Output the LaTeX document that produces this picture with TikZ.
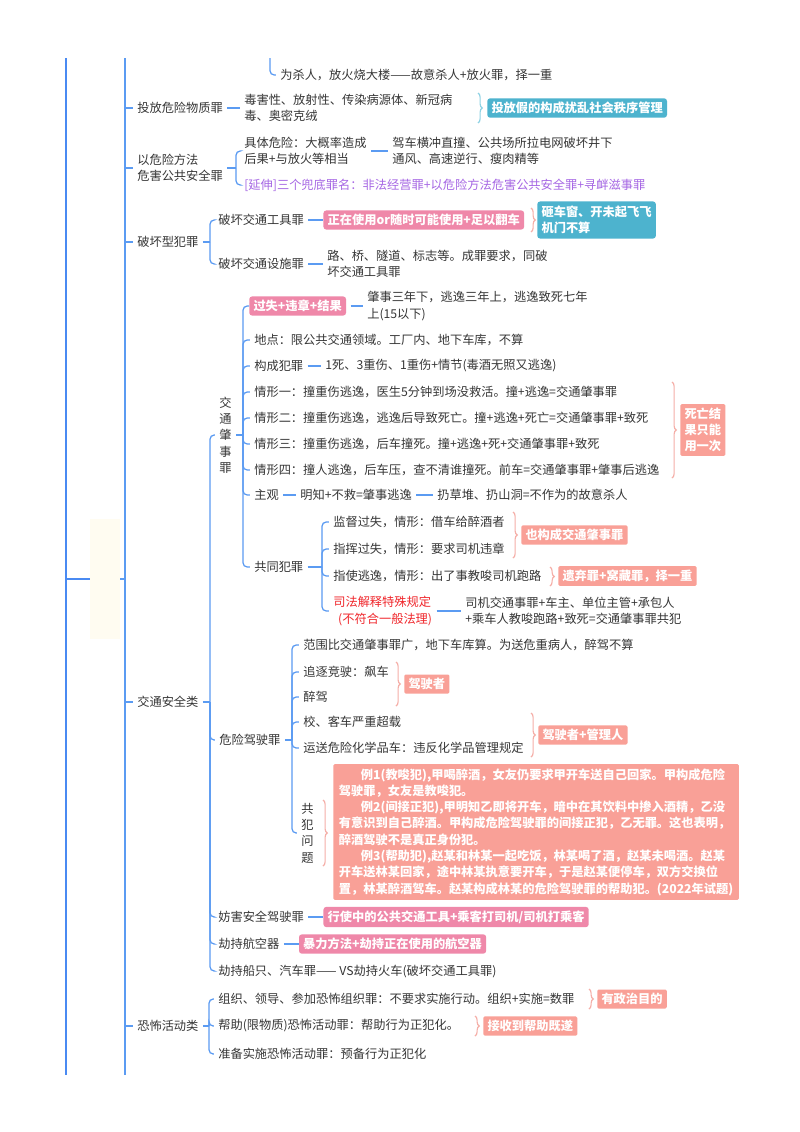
\documentclass[tikz,border=0pt]{standalone}
\usepackage{fontspec}
\setmainfont{Noto Sans CJK SC}
\usetikzlibrary{positioning, calc, decorations.pathreplacing}
\definecolor{linkblue}{HTML}{5B9BF2}
\definecolor{trunkblue}{HTML}{4A8AF2}
\definecolor{txtgray}{HTML}{363636}
\definecolor{pinkbox}{HTML}{EF88A9}
\definecolor{salmon}{HTML}{F9A097}
\definecolor{tealbox}{HTML}{4DB3CE}
\definecolor{bracepink}{HTML}{F5AFA8}
\definecolor{braceteal}{HTML}{8ED2E4}
\definecolor{extpurple}{HTML}{A667E4}
\definecolor{lawred}{HTML}{F0262B}
\definecolor{rootfill}{HTML}{FFFCF1}

\tikzset{
  every node/.style={font=\fontsize{8.7}{11.6}\selectfont, text=txtgray},
  item/.style={anchor=west, inner sep=0pt, align=left},
  vert/.style={anchor=west, inner sep=0pt, align=center},
  tag/.style={anchor=west, text=white, font=\fontsize{8.7}{11.6}\selectfont\bfseries,
    rounded corners=2pt, inner xsep=3pt, inner ysep=2.6pt, align=left},
  pinktag/.style={tag, fill=pinkbox},
  salmontag/.style={tag, fill=salmon, rounded corners=1pt},
  tealtag/.style={tag, fill=tealbox},
  rootbox/.style={fill=rootfill, minimum width=21pt, minimum height=86pt, inner sep=0pt},
  link/.style={draw=linkblue, line width=0.9pt, rounded corners=3pt},
  trunk/.style={link, draw=trunkblue, line width=1.4pt},
  stem/.style={link, shorten <=3pt},
  kid/.style={link, shorten >=3pt},
  tie/.style={link, shorten <=3pt, shorten >=3pt},
  tieb/.style={link, shorten <=3pt},
  brc/.style={draw=bracepink, line width=0.8pt, decorate, decoration={brace, amplitude=3pt}},
}

\begin{document}
\begin{tikzpicture}[x=0.025cm, y=-0.025cm, node distance=13.5pt]
  \useasboundingbox (0,0) rectangle (800,1132);
  \fill[white] (0,0) rectangle (800,1132);

  \node[item] (weisha) at (280,75) {为杀人，放火烧大楼——故意杀人+放火罪，择一重};
  \node[rootbox] (root) at (105,579) {};

  \node[item] (toufang) at (137,108) {投放危险物质罪};
  \node[item] (dusx) at (244,108) {毒害性、放射性、传染病源体、新冠病\\毒、奥密克绒};
  \node[tealtag] (tfj) at (487,108) {投放假的构成扰乱社会秩序管理};

  \node[item] (yiwei) at (137,168) {以危险方法\\危害公共安全罪};
  \node[item] (juti) at (244,151) {具体危险：大概率造成\\后果+与放火等相当};
  \node[item] (jiache) at (392,151) {驾车横冲直撞、公共场所拉电网破坏井下\\通风、高速逆行、瘦肉精等};
  \node[item, text=extpurple] (yanshen) at (244,185) {[延伸]三个兜底罪名：非法经营罪+以危险方法危害公共安全罪+寻衅滋事罪};

  \node[item] (pohuai) at (137,242) {破坏型犯罪};
  \node[item] (gjgj) at (218,220) {破坏交通工具罪};
  \node[pinktag, right=of gjgj] (zyyc) {正在使用or随时可能使用+足以翻车};
  \node[tealtag, right=9pt of zyyc, inner ysep=3.2pt] (zcc) {砸车窗、开未起飞飞\\机门不算};
  \node[item] (gjss) at (218,264) {破坏交通设施罪};
  \node[item] (lqsd) at (327,264) {路、桥、隧道、标志等。成罪要求，同破\\坏交通工具罪};

  \node[item] (jiaotong) at (137,702) {交通安全类};
  \node[vert] (zhaoshi) at (219,435) {交\\通\\肇\\事\\罪};
  \node[pinktag] (gsw) at (249,306) {过失+违章+结果};
  \node[item] (zs3) at (367,306) {肇事三年下，逃逸三年上，逃逸致死七年\\上(15以下)};
  \node[item] (didian) at (254,340) {地点：限公共交通领域。工厂内、地下车库，不算};
  \node[item] (goucheng) at (254,366) {构成犯罪};
  \node[item] (gcsi) at (325,366) {1死、3重伤、1重伤+情节(毒酒无照又逃逸)};
  \node[item] (qx1) at (254,392) {情形一：撞重伤逃逸，医生5分钟到场没救活。撞+逃逸=交通肇事罪};
  \node[item] (qx2) at (254,418) {情形二：撞重伤逃逸，逃逸后导致死亡。撞+逃逸+死亡=交通肇事罪+致死};
  \node[item] (qx3) at (254,444) {情形三：撞重伤逃逸，后车撞死。撞+逃逸+死+交通肇事罪+致死};
  \node[item] (qx4) at (254,470) {情形四：撞人逃逸，后车压，查不清谁撞死。前车=交通肇事罪+肇事后逃逸};
  \node[salmontag] (swjg) at (680,430) {死亡结\\果只能\\用一次};
  \node[item] (zhuguan) at (254,495) {主观};
  \node[item] (mingzhi) at (300,495) {明知+不救=肇事逃逸};
  \node[item] (rengcd) at (437,495) {扔草堆、扔山洞=不作为的故意杀人};
  \node[item] (gongtong) at (254,567) {共同犯罪};
  \node[item] (jiandu) at (333,522) {监督过失，情形：借车给醉酒者};
  \node[item] (zhihui) at (333,549) {指挥过失，情形：要求司机违章};
  \node[salmontag] (ygc) at (521,535) {也构成交通肇事罪};
  \node[item] (zhishi) at (333,576) {指使逃逸，情形：出了事教唆司机跑路};
  \node[salmontag] (yqz) at (558,576) {遗弃罪+窝藏罪，择一重};
  \node[item, text=lawred] (sfjs) at (333,611) {司法解释特殊规定\\\hspace*{3.5pt}(不符合一般法理)};
  \node[item] (sjjt) at (465,611) {司机交通事罪+车主、单位主管+承包人\\+乘车人教唆跑路+致死=交通肇事罪共犯};

  \node[item] (weixian) at (219,740) {危险驾驶罪};
  \node[item] (fanwei) at (303,645) {范围比交通肇事罪广，地下车库算。为送危重病人，醉驾不算};
  \node[item] (zhuizhu) at (303,672) {追逐竞驶：飙车};
  \node[item] (zuijia) at (303,697) {醉驾};
  \node[salmontag] (jsz) at (404,684) {驾驶者};
  \node[item] (xiaoke) at (303,722) {校、客车严重超载};
  \node[item] (yunsong) at (303,748) {运送危险化学品车：违反化学品管理规定};
  \node[salmontag] (jszg) at (538,735) {驾驶者+管理人};
  \node[vert] (gongfan) at (301,833) {共\\犯\\问\\题};
  \node[salmontag, inner xsep=4pt, inner ysep=3pt] (lizi) at (333,832)
    {\hspace*{1.8em}例1(教唆犯),甲喝醉酒，女友仍要求甲开车送自己回家。甲构成危险\\
     驾驶罪，女友是教唆犯。\\
     \hspace*{1.8em}例2(间接正犯),甲明知乙即将开车，暗中在其饮料中掺入酒精，乙没\\
     有意识到自己醉酒。甲构成危险驾驶罪的间接正犯，乙无罪。这也表明，\\
     醉酒驾驶不是真正身份犯。\\
     \hspace*{1.8em}例3(帮助犯),赵某和林某一起吃饭，林某喝了酒，赵某未喝酒。赵某\\
     开车送林某回家，途中林某执意要开车，于是赵某便停车，双方交换位\\
     置，林某醉酒驾车。赵某构成林某的危险驾驶罪的帮助犯。(2022年试题)};

  \node[item] (fanghai) at (218,917) {妨害安全驾驶罪};
  \node[pinktag, right=of fanghai] (xsz) {行使中的公共交通工具+乘客打司机/司机打乘客};
  \node[item] (hangkong) at (218,944) {劫持航空器};
  \node[pinktag, right=of hangkong] (blff) {暴力方法+劫持正在使用的航空器};
  \node[item] (chuanzhi) at (218,971) {劫持船只、汽车罪—— VS劫持火车(破坏交通工具罪)};

  \node[item] (kongbu) at (137,1026) {恐怖活动类};
  \node[item] (zuzhi) at (218,999) {组织、领导、参加恐怖组织罪：不要求实施行动。组织+实施=数罪};
  \node[salmontag] (zzmd) at (597,999) {有政治目的};
  \node[item] (bangzhu) at (218,1026) {帮助(限物质)恐怖活动罪：帮助行为正犯化。};
  \node[salmontag] (jsd) at (483,1026) {接收到帮助既遂};
  \node[item] (zhunbei) at (218,1054) {准备实施恐怖活动罪：预备行为正犯化};

  \coordinate (trunktop) at (66,58);
  \coordinate (trunkbot) at (66,1075);
  \coordinate (jtrunk) at (66,579);
  \coordinate (roottop) at (125,58);
  \coordinate (rootbot) at (125,1075);
  \coordinate (jroot) at (125,579);
  \coordinate (weitop) at (270,58);
  \coordinate (jyiwei) at (236,168);
  \coordinate (jpohuai) at (210,242);
  \coordinate (jjiaotong) at (210,702);
  \coordinate (jzhaoshi) at (243,435);
  \coordinate (jgongtong) at (322,567);
  \coordinate (jweixian) at (292,740);
  \coordinate (jkongbu) at (209,1026);

  \draw[trunk] (trunktop) -- (trunkbot);
  \draw[trunk] (jtrunk) -- (root);
  \draw[link] (root) -- (jroot);
  \draw[link] (roottop) -- (rootbot);
  \foreach \c in {toufang,yiwei,pohuai,jiaotong,kongbu}
    \draw[kid] (jroot |- \c) -- (\c);
  \draw[kid] (weitop) |- (weisha);

  \draw[tie] (toufang) -- (dusx);
  \draw[brc, draw=braceteal] (478,93) -- (478,123);

  \draw[stem] (yiwei) -- (jyiwei);
  \foreach \c in {juti,yanshen}
    \draw[kid] (jyiwei) |- (\c);
  \draw[tie] (juti) -- (jiache);

  \draw[stem] (pohuai) -- (jpohuai);
  \foreach \c in {gjgj,gjss}
    \draw[kid] (jpohuai) |- (\c);
  \draw[tieb] (gjgj) -- (zyyc);
  \draw[brc] ($(zcc.west)+(-6,-12)$) -- ($(zcc.west)+(-6,12)$);
  \draw[tie] (gjss) -- (lqsd);

  \draw[stem] (jiaotong) -- (jjiaotong);
  \foreach \c in {zhaoshi,weixian,fanghai,hangkong,chuanzhi}
    \draw[kid] (jjiaotong) |- (\c);

  \draw[stem] (zhaoshi) -- (jzhaoshi);
  \draw[link] (jzhaoshi) |- (gsw);
  \foreach \c in {didian,goucheng,qx1,qx2,qx3,qx4,zhuguan,gongtong}
    \draw[kid] (jzhaoshi) |- (\c);
  \draw[tie] (gsw) -- (zs3);
  \draw[tie] (goucheng) -- (gcsi);
  \draw[brc] (672,382) -- (672,478);
  \draw[tie] (zhuguan) -- (mingzhi);
  \draw[tie] (mingzhi) -- (rengcd);

  \draw[stem] (gongtong) -- (jgongtong);
  \foreach \c in {jiandu,zhihui,zhishi,sfjs}
    \draw[kid] (jgongtong) |- (\c);
  \draw[brc] (513,512) -- (513,558);
  \draw[brc] (550,567) -- (550,586);
  \draw[tie] (sfjs) -- (sjjt);

  \draw[stem] (weixian) -- (jweixian);
  \foreach \c in {fanwei,zhuizhu,zuijia,xiaoke,yunsong,gongfan}
    \draw[kid] (jweixian) |- (\c);
  \draw[brc] (396,662) -- (396,706);
  \draw[brc] (531,713) -- (531,757);
  \draw[brc] (323,800) -- (323,866);

  \draw[tieb] (fanghai) -- (xsz);
  \draw[tieb] (hangkong) -- (blff);

  \draw[stem] (kongbu) -- (jkongbu);
  \foreach \c in {zuzhi,bangzhu,zhunbei}
    \draw[kid] (jkongbu) |- (\c);
  \draw[brc] (589,989) -- (589,1009);
  \draw[brc] (475,1016) -- (475,1036);
\end{tikzpicture}
\end{document}
